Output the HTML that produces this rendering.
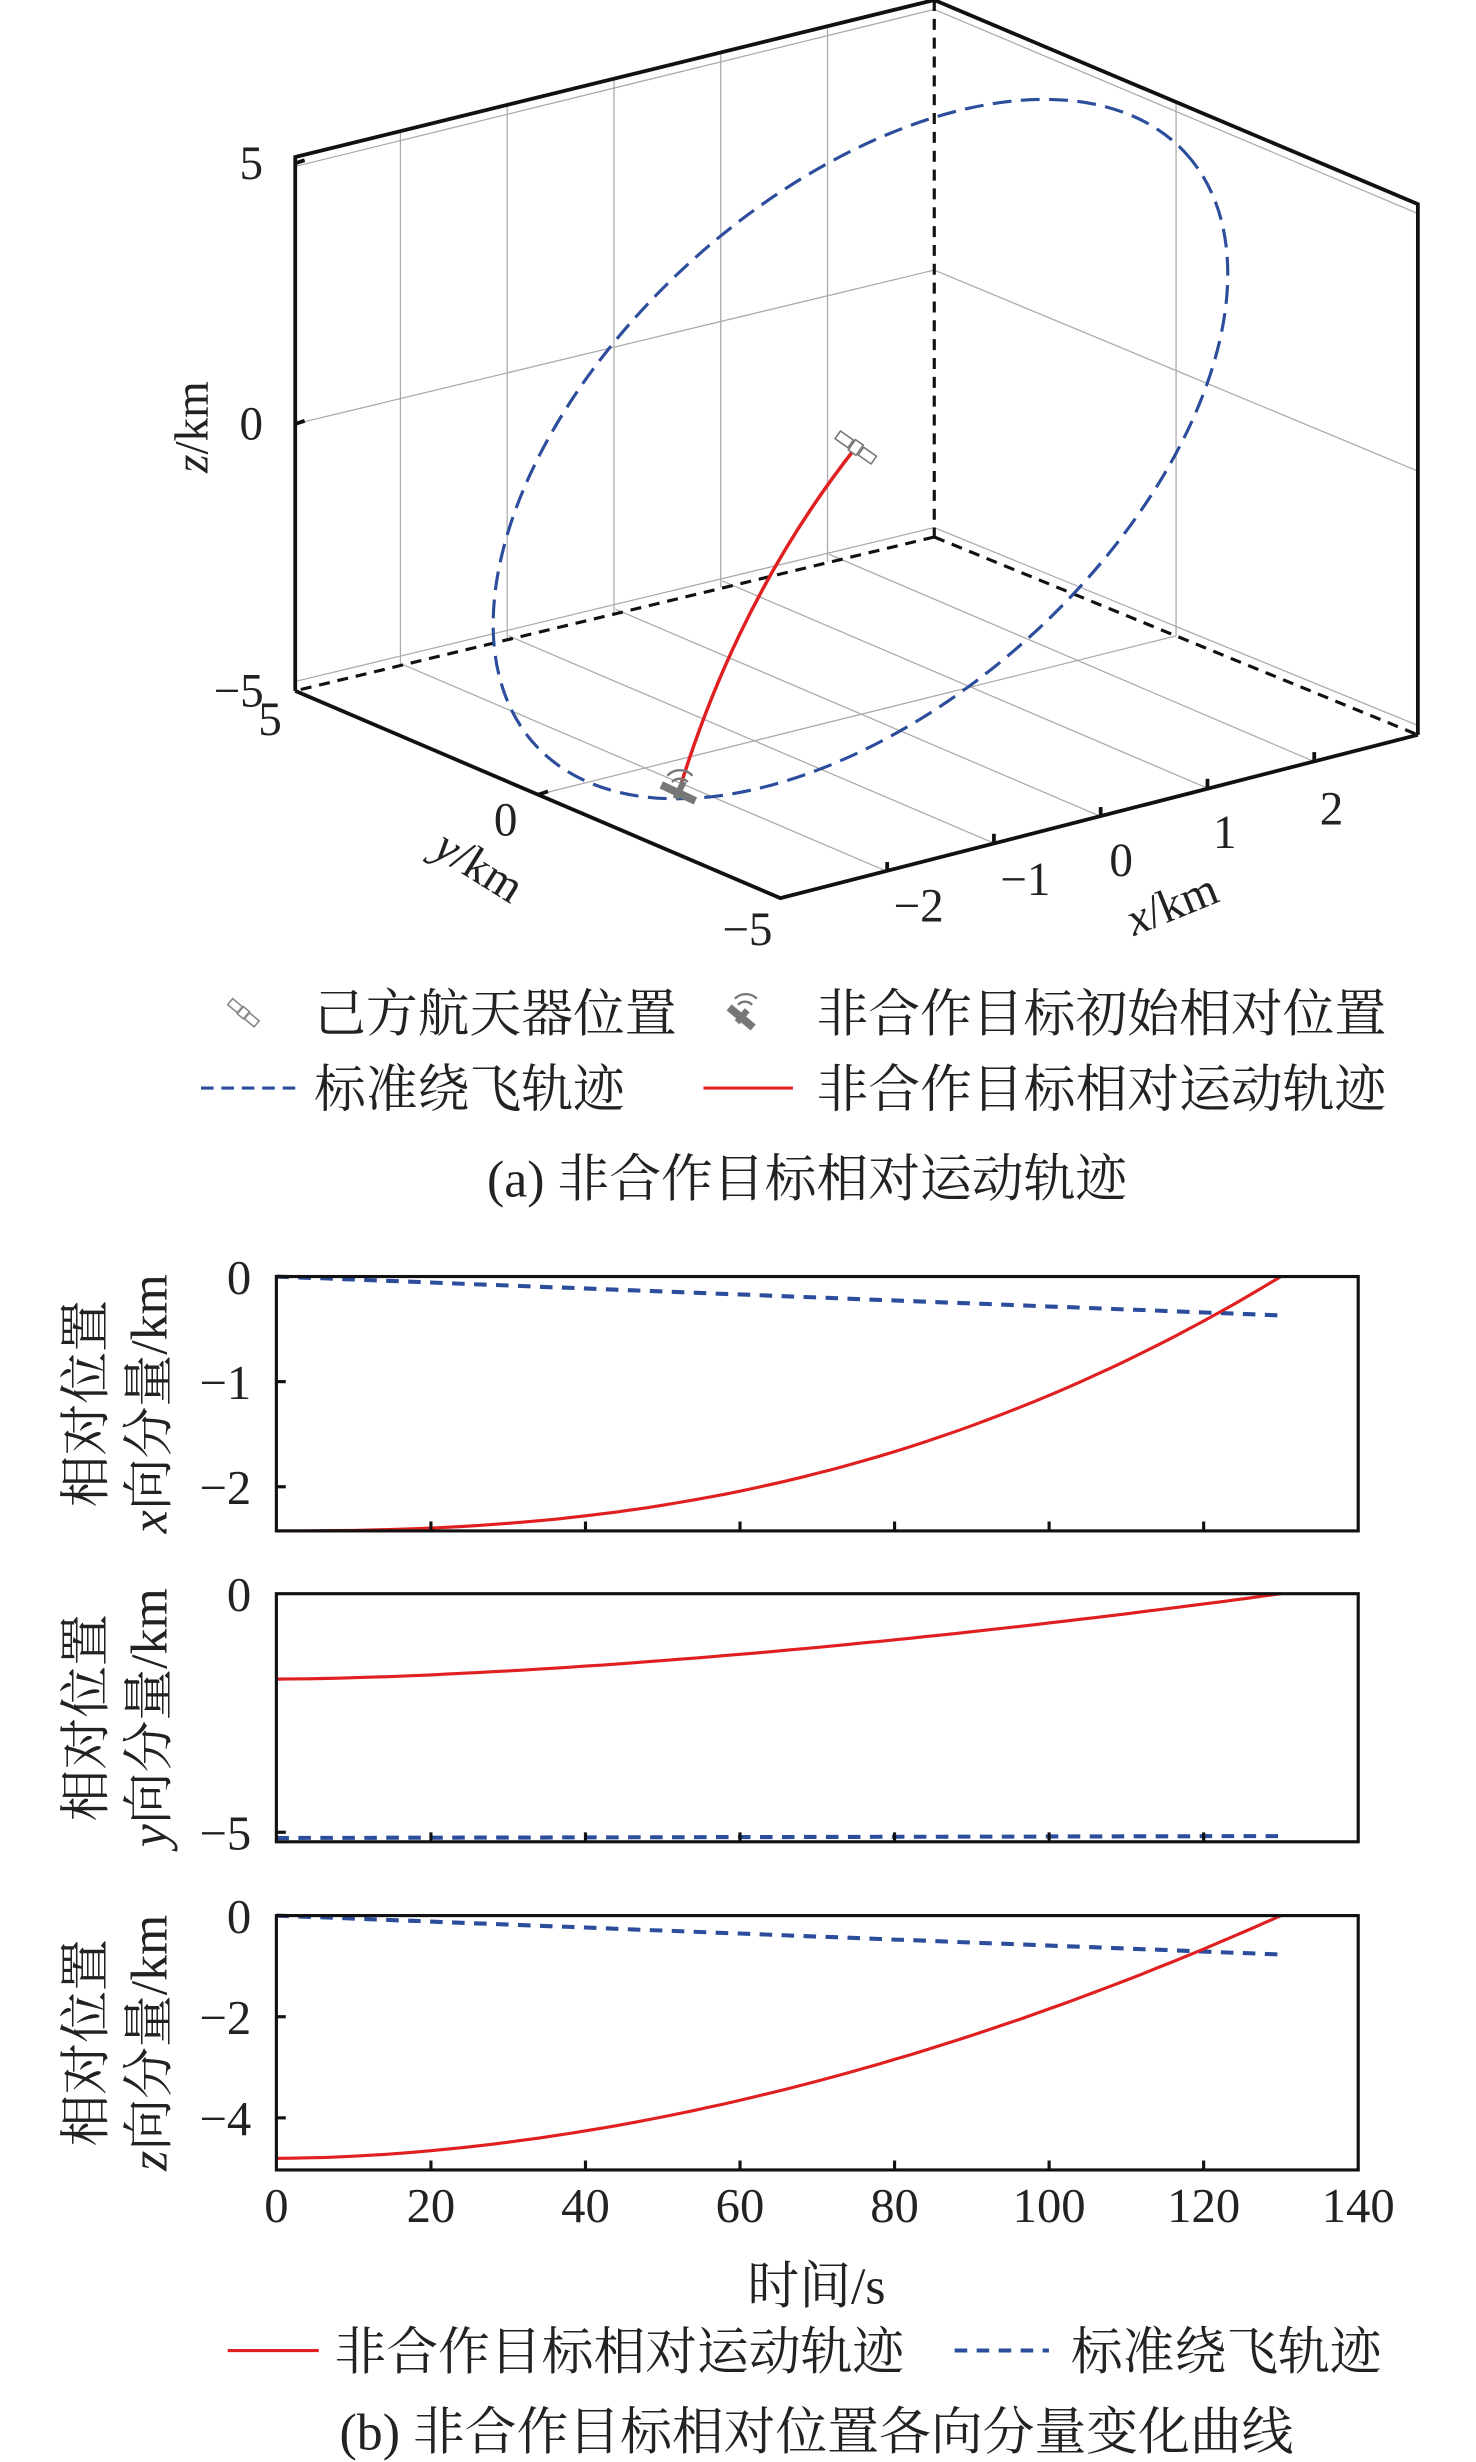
<!DOCTYPE html>
<html><head><meta charset="utf-8"><style>
html,body{margin:0;padding:0;background:#fff}
svg{display:block}
text{font-family:"Liberation Serif","Noto Serif CJK SC",serif;fill:#222}
</style></head><body>
<svg id="s" width="1476" height="2462" viewBox="0 0 940 1568" xmlns="http://www.w3.org/2000/svg">
<!-- 3D box grid -->
<g stroke="#aaa" stroke-width="0.8" fill="none">
 <line x1="255" y1="84" x2="255" y2="424"/><line x1="323" y1="67" x2="323" y2="407"/>
 <line x1="391" y1="51" x2="391" y2="391"/><line x1="459" y1="34" x2="459" y2="374"/>
 <line x1="527" y1="18" x2="527" y2="358"/>
 <line x1="749" y1="65" x2="749" y2="405"/>
 <line x1="188" y1="270" x2="595" y2="172"/><line x1="595" y1="172" x2="903" y2="300"/>
 <line x1="188" y1="106" x2="595" y2="6"/><line x1="595" y1="6" x2="903" y2="136"/>
 <line x1="343" y1="506" x2="749" y2="405"/>
 <line x1="565" y1="555" x2="256" y2="423"/><line x1="633" y1="537" x2="324" y2="405"/>
 <line x1="701" y1="520" x2="392" y2="388"/><line x1="769" y1="502" x2="460" y2="370"/>
 <line x1="837" y1="485" x2="528" y2="353"/>
 <line x1="188" y1="434" x2="595" y2="336"/><line x1="595" y1="336" x2="903" y2="462"/>
</g>
<g stroke="#111" stroke-width="2" fill="none" stroke-dasharray="7,5">
 <line x1="595" y1="0" x2="595" y2="342"/>
 <line x1="595" y1="342" x2="188" y2="440"/>
 <line x1="595" y1="342" x2="903" y2="468"/>
</g>
<g stroke="#111" stroke-width="2.4" fill="none">
 <polyline points="188,440 188,100 595,0 903,130 903,468"/>
 <polyline points="188,440 497,572 903,468"/>
 <line x1="565" y1="555" x2="565" y2="549"/><line x1="633" y1="537" x2="633" y2="531"/>
 <line x1="701" y1="520" x2="701" y2="514"/><line x1="769" y1="502" x2="769" y2="496"/>
 <line x1="837" y1="485" x2="837" y2="479"/><line x1="343" y1="506" x2="349" y2="504"/>
 <line x1="188" y1="270" x2="194" y2="268"/><line x1="188" y1="104" x2="194" y2="102"/>
</g>
<ellipse cx="548" cy="286" rx="280" ry="161" transform="rotate(-42.2 548 286)" fill="none" stroke="#2b4d9c" stroke-width="2" stroke-dasharray="12,6"/>
<path d="M432,505 Q470,380 545,285" fill="none" stroke="#e02020" stroke-width="2.2"/>
<!-- satellites -->
<g transform="translate(545,285) rotate(35)" fill="#fff" stroke="#777" stroke-width="1">
 <rect x="-14" y="-3" width="10" height="6"/><rect x="4" y="-3" width="10" height="6"/><rect x="-3" y="-4" width="6" height="8"/>
</g>
<g transform="translate(432,505) rotate(25)" fill="#777">
 <rect x="-12" y="-2.5" width="24" height="5"/><rect x="-2" y="-8" width="4" height="12"/>
</g>
<path d="M428,498 a7,7 0 0 1 10,0 M425,494 a11,11 0 0 1 16,0" stroke="#777" stroke-width="1.5" fill="none"/>
<!-- 3D labels -->
<g font-size="30" text-anchor="middle">
 <text x="160" y="114">5</text><text x="160" y="280">0</text><text x="152" y="450">−5</text>
 <text x="172" y="468">5</text><text x="322" y="532">0</text><text x="476" y="602">−5</text>
 <text x="585" y="587">−2</text><text x="653" y="570">−1</text><text x="714" y="558">0</text><text x="780" y="540">1</text><text x="848" y="525">2</text>
 <text transform="translate(132,272) rotate(-90)"><tspan font-style="italic">z</tspan>/km</text>
 <text transform="translate(300,560) rotate(32)"><tspan font-style="italic">y</tspan>/km</text>
 <text transform="translate(750,585) rotate(-22)"><tspan font-style="italic">x</tspan>/km</text>
</g>
<!-- legend a -->
<g transform="translate(155,645) rotate(40)" fill="#fff" stroke="#888" stroke-width="1">
 <rect x="-11" y="-2.5" width="8" height="5"/><rect x="3" y="-2.5" width="8" height="5"/><rect x="-2.5" y="-3" width="5" height="6"/>
</g>
<g transform="translate(472,648) rotate(40)" fill="#777"><rect x="-10" y="-2.5" width="20" height="5"/><rect x="-2" y="-6" width="4" height="10"/></g>
<path d="M470,640 a6,6 0 0 1 9,0 M468,636 a10,10 0 0 1 14,0" stroke="#777" stroke-width="1.5" fill="none"/>
<line x1="128" y1="693" x2="188" y2="693" stroke="#2b4d9c" stroke-width="2" stroke-dasharray="8,5"/>
<line x1="448" y1="693" x2="505" y2="693" stroke="#e02020" stroke-width="2"/>
<g font-size="33">
 <text x="200" y="657">己方航天器位置</text><text x="520" y="657">非合作目标初始相对位置</text>
 <text x="200" y="705">标准绕飞轨迹</text><text x="520" y="705">非合作目标相对运动轨迹</text>
 <text x="514" y="762" text-anchor="middle">(a) 非合作目标相对运动轨迹</text>
</g>
<g id="panels"></g>
<g font-size="33">
 <text x="520" y="1467" text-anchor="middle">时间/s</text>
 <text x="213" y="1509">非合作目标相对运动轨迹</text><text x="682" y="1509">标准绕飞轨迹</text>
 <text x="520" y="1560" text-anchor="middle">(b) 非合作目标相对位置各向分量变化曲线</text>
</g>
<line x1="145" y1="1497" x2="203" y2="1497" stroke="#e02020" stroke-width="2"/>
<line x1="608" y1="1497" x2="668" y2="1497" stroke="#2b4d9c" stroke-width="2.6" stroke-dasharray="8,6"/>
</svg>
<script>
var NS="http://www.w3.org/2000/svg",g=document.getElementById('panels');
function el(n,a,t){var e=document.createElementNS(NS,n);for(var k in a)e.setAttribute(k,a[k]);if(t)e.textContent=t;g.appendChild(e);return e;}
var X0=176,X1=865;function px(t){return X0+(X1-X0)*t/140;}
var P=[
 {top:813,bot:975,vmin:-2.42,ticks:[0,-1,-2],lab:"x",red:function(u){return -2.42*(1-Math.pow(u,2.4));},blue:function(u){return -0.37*u;}},
 {top:1015,bot:1173,vmin:-5.2,ticks:[0,-5],lab:"y",red:function(u){return -1.79*(1-Math.pow(u,1.6));},blue:function(u){return -5.12+0.04*u;}},
 {top:1220,bot:1382,vmin:-5.03,ticks:[0,-2,-4],lab:"z",red:function(u){return -4.8*(1-Math.pow(u,1.85));},blue:function(u){return -0.77*u;}}
];
P.forEach(function(p){
 function py(v){return p.top+(p.bot-p.top)*(v/p.vmin);}
 var r=[],b=[];
 for(var i=0;i<=130;i+=2){var u=i/130;r.push(px(i).toFixed(1)+","+py(p.red(u)).toFixed(1));b.push(px(i).toFixed(1)+","+py(p.blue(u)).toFixed(1));}
 el('polyline',{points:b.join(' '),fill:'none',stroke:'#2b4d9c','stroke-width':2.6,'stroke-dasharray':'8,6'});
 el('polyline',{points:r.join(' '),fill:'none',stroke:'#e02020','stroke-width':2});
 el('rect',{x:X0,y:p.top,width:X1-X0,height:p.bot-p.top,fill:'none',stroke:'#111','stroke-width':2});
 for(var t=20;t<140;t+=20)el('line',{x1:px(t),x2:px(t),y1:p.bot,y2:p.bot-6,stroke:'#111','stroke-width':2});
 p.ticks.forEach(function(v){var y=py(v);if(v!==0)el('line',{x1:X0,x2:X0+6,y1:y,y2:y,stroke:'#111','stroke-width':2});
  el('text',{x:160,y:y+11,'font-size':31,'text-anchor':'end'},v===0?"0":"−"+(-v));});
 var cy=(p.top+p.bot)/2;
 el('text',{transform:'translate(66,'+cy+') rotate(-90)','font-size':33,'text-anchor':'middle'},"相对位置");
 var t2=el('text',{transform:'translate(106,'+cy+') rotate(-90)','font-size':33,'text-anchor':'middle'});
 var s=document.createElementNS(NS,'tspan');s.setAttribute('font-style','italic');s.textContent=p.lab;t2.appendChild(s);
 t2.appendChild(document.createTextNode("向分量/km"));
});
for(var t=0;t<=140;t+=20)el('text',{x:px(t),y:1415,'font-size':31,'text-anchor':'middle'},""+t);
</script>
</body></html>
